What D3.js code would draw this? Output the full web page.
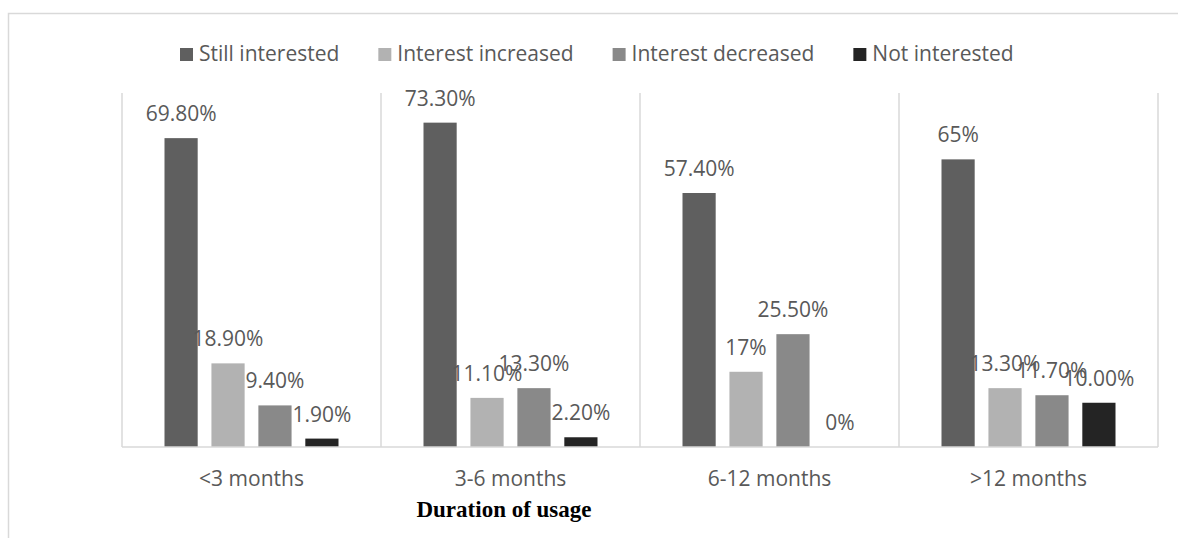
<!DOCTYPE html>
<html>
<head>
<meta charset="utf-8">
<script src="https://cdn.jsdelivr.net/npm/d3@7"></script>
<style>
  body { margin: 0; background: #fff; }
  svg { display: block; }
  text { font-family: "Open Sans", sans-serif; }
</style>
</head>
<body>
<div id="chart"></div>
<script>
const categories = ["<3 months", "3-6 months", "6-12 months", ">12 months"];
const seriesNames = ["Still interested", "Interest increased", "Interest decreased", "Not interested"];
const stillInterested = [69.8, 73.3, 57.4, 65];
const interestIncreased = [18.9, 11.1, 17, 13.3];
const interestDecreased = [9.4, 13.3, 25.5, 11.7];
const notInterested = [1.9, 2.2, 0, 10.0];
const stillLabels = ["69.80%", "73.30%", "57.40%", "65%"];
const increasedLabels = ["18.90%", "11.10%", "17%", "13.30%"];
const decreasedLabels = ["9.40%", "13.30%", "25.50%", "11.70%"];
const notLabels = ["1.90%", "2.20%", "0%", "10.00%"];
const colors = ["#5f5f5f", "#b2b2b2", "#898989", "#242424"];

const width = 1178, height = 538;
const plot = { left: 122, right: 1158, top: 93, bottom: 447 };

const seriesValues = [stillInterested, interestIncreased, interestDecreased, notInterested];
const seriesLabels = [stillLabels, increasedLabels, decreasedLabels, notLabels];

const svg = d3.select("#chart")
  .append("svg")
  .attr("width", width)
  .attr("height", height);

// chart area border (runs off the right and bottom edges)
svg.append("rect")
  .attr("x", 8.5)
  .attr("y", 13.5)
  .attr("width", 1300)
  .attr("height", 700)
  .attr("fill", "none")
  .attr("stroke", "#d9d9d9")
  .attr("stroke-width", 1.5);

const x0 = d3.scaleBand()
  .domain(categories)
  .range([plot.left, plot.right]);

const x1 = d3.scaleBand()
  .domain(seriesNames)
  .range([42.5, x0.bandwidth() - 42.5])
  .paddingInner(0.293);

const y = d3.scaleLinear()
  .domain([0, 80])
  .range([plot.bottom, plot.top]);

// vertical category separators
const bounds = categories.map(c => x0(c)).concat([plot.right]);
svg.append("g")
  .selectAll("line")
  .data(bounds)
  .join("line")
  .attr("x1", d => d)
  .attr("x2", d => d)
  .attr("y1", y(80))
  .attr("y2", y(0))
  .attr("stroke", "#d9d9d9")
  .attr("stroke-width", 1.5);

// bars
const rows = [];
seriesNames.forEach((s, si) => {
  categories.forEach((c, ci) => {
    rows.push({ s, si, c, v: seriesValues[si][ci], label: seriesLabels[si][ci] });
  });
});

svg.append("g")
  .selectAll("rect")
  .data(rows)
  .join("rect")
  .attr("x", d => x0(d.c) + x1(d.s))
  .attr("y", d => y(d.v))
  .attr("width", x1.bandwidth())
  .attr("height", d => y(0) - y(d.v))
  .attr("fill", d => colors[d.si]);

// baseline
svg.append("line")
  .attr("x1", plot.left)
  .attr("x2", plot.right)
  .attr("y1", y(0))
  .attr("y2", y(0))
  .attr("stroke", "#d9d9d9")
  .attr("stroke-width", 1.5);

// data labels
svg.append("g")
  .selectAll("text")
  .data(rows)
  .join("text")
  .attr("x", d => x0(d.c) + x1(d.s) + x1.bandwidth() / 2)
  .attr("y", d => y(d.v) - 17)
  .attr("text-anchor", "middle")
  .attr("font-size", 21)
  .attr("fill", "#595959")
  .text(d => d.label);

// category labels
svg.append("g")
  .selectAll("text")
  .data(categories)
  .join("text")
  .attr("x", d => x0(d) + x0.bandwidth() / 2)
  .attr("y", 486)
  .attr("text-anchor", "middle")
  .attr("font-size", 21)
  .attr("fill", "#595959")
  .text(d => d);

// axis title
svg.append("text")
  .attr("x", 504)
  .attr("y", 517)
  .attr("text-anchor", "middle")
  .style("font-family", "'Liberation Serif', 'Times New Roman', serif")
  .attr("font-weight", "bold")
  .attr("font-size", 23)
  .attr("fill", "#000")
  .text("Duration of usage");

// legend
const legend = svg.append("g").attr("transform", "translate(0,61)");
let lx = 180;
seriesNames.forEach((s, i) => {
  const g = legend.append("g").attr("transform", `translate(${lx},0)`);
  g.append("rect")
    .attr("x", 0)
    .attr("y", -13)
    .attr("width", 13)
    .attr("height", 13)
    .attr("fill", colors[i]);
  const t = g.append("text")
    .attr("x", 19)
    .attr("y", 0)
    .attr("font-size", 21)
    .attr("fill", "#595959")
    .text(s);
  lx += 19 + t.node().getComputedTextLength() + 39;
});
</script>
</body>
</html>
